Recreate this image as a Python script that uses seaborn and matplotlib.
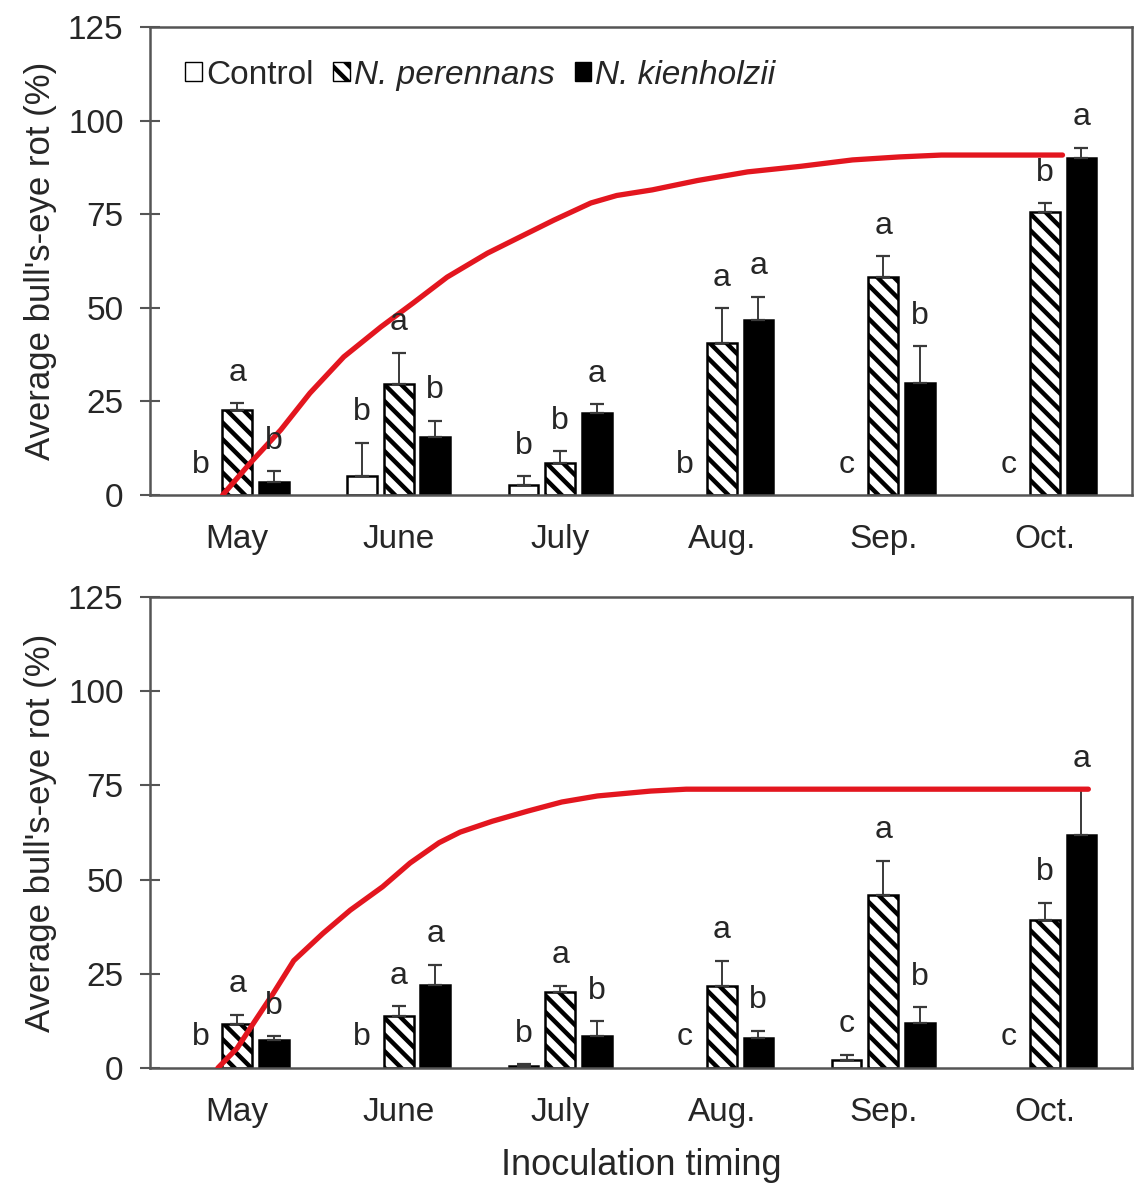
import numpy as np
import pandas as pd
import matplotlib
matplotlib.use("Agg")
import matplotlib.pyplot as plt
import seaborn as sns

# ---- data ----------------------------------------------------------------
months = ["May", "June", "July", "Aug.", "Sep.", "Oct."]
treatments = ["Control", "N. perennans", "N. kienholzii"]

# panel 1
top_control = [0.0, 5.1, 2.7, 0.0, 0.0, 0.0]
top_control_se = [0.0, 8.8, 2.3, 0.0, 0.0, 0.0]
top_perennans = [22.7, 29.6, 8.5, 40.6, 58.2, 75.6]
top_perennans_se = [1.8, 8.4, 3.2, 9.3, 5.6, 2.4]
top_kienholzii = [3.5, 15.5, 21.9, 46.7, 29.9, 90.0]
top_kienholzii_se = [2.9, 4.3, 2.4, 6.3, 9.9, 2.7]
top_control_letters = ["b", "b", "b", "b", "c", "c"]
top_perennans_letters = ["a", "a", "b", "a", "a", "b"]
top_kienholzii_letters = ["b", "b", "a", "a", "b", "a"]

# panel 2
bot_control = [0.0, 0.0, 0.5, 0.0, 2.2, 0.0]
bot_control_se = [0.0, 0.0, 0.5, 0.0, 1.3, 0.0]
bot_perennans = [11.8, 13.7, 20.2, 21.8, 46.0, 39.2]
bot_perennans_se = [2.4, 2.7, 1.6, 6.7, 9.0, 4.6]
bot_kienholzii = [7.5, 22.0, 8.6, 8.1, 12.0, 61.8]
bot_kienholzii_se = [0.9, 5.4, 3.8, 1.8, 4.1, 12.0]
bot_control_letters = ["b", "b", "b", "c", "c", "c"]
bot_perennans_letters = ["a", "a", "a", "a", "a", "b"]
bot_kienholzii_letters = ["b", "a", "b", "b", "b", "a"]

# cumulative curves (x in month-position units)
top_curve_x = [-0.09, 0.08, 0.27, 0.45, 0.66, 0.89, 1.09, 1.30, 1.55, 1.75,
               1.96, 2.19, 2.35, 2.57, 2.85, 3.16, 3.49, 3.81, 4.10, 4.36, 5.11]
top_curve_y = [0.0, 8.5, 17.4, 27.2, 36.9, 44.9, 51.3, 58.2, 64.6, 68.9,
               73.4, 78.0, 80.0, 81.5, 84.0, 86.3, 87.8, 89.5, 90.3, 90.8, 90.8]
bot_curve_x = [-0.12, 0.00, 0.11, 0.22, 0.35, 0.53, 0.70, 0.90, 1.07, 1.25,
               1.38, 1.58, 1.80, 2.01, 2.23, 2.56, 2.78, 3.14, 5.27]
bot_curve_y = [0.0, 5.3, 12.5, 19.6, 28.5, 35.7, 41.9, 48.1, 54.4, 59.8,
               62.6, 65.5, 68.2, 70.6, 72.2, 73.5, 74.0, 74.0, 74.0]

# ---- style ---------------------------------------------------------------
sns.set_theme(style="white")
plt.rcParams["font.family"] = ["Liberation Sans", "DejaVu Sans"]
plt.rcParams["hatch.linewidth"] = 3.2
plt.rcParams["hatch.color"] = "black"

TEXT = "#262626"
SPINE = "#555555"
RED = "#e3161f"

fig = plt.figure(figsize=(11.45, 11.85), dpi=100)
ax_top = fig.add_axes([0.131, 0.5823, 0.8576, 0.3949])
ax_bot = fig.add_axes([0.131, 0.0987, 0.8576, 0.3975])


def draw_panel(ax, ctrl, ctrl_se, per, per_se, kie, kie_se,
               letters, curve_x, curve_y):
    df = pd.DataFrame({
        "month": months * 3,
        "treatment": np.repeat(treatments, len(months)),
        "value": ctrl + per + kie,
    })
    sns.barplot(data=df, x="month", y="value", hue="treatment",
                order=months, hue_order=treatments,
                palette={"Control": "white", "N. perennans": "white",
                         "N. kienholzii": "black"},
                edgecolor="black", linewidth=1.8, width=0.68, gap=0.19,
                errorbar=None, legend=False, ax=ax, zorder=2)
    bar_conts = list(ax.containers[:3])
    for patch in bar_conts[1].patches:
        patch.set_hatch("\\\\")
    # bars of zero height leave no outline on the baseline
    for cont in bar_conts:
        for patch in cont.patches:
            if patch.get_height() == 0:
                patch.set_linewidth(0)

    ses = [ctrl_se, per_se, kie_se]
    for cont, se, labs in zip(bar_conts, ses, letters):
        xs = np.array([p.get_x() + p.get_width() / 2 for p in cont.patches])
        hs = np.array([p.get_height() for p in cont.patches])
        se = np.array(se)
        has = se > 0
        ax.errorbar(xs[has], hs[has], yerr=[np.zeros(has.sum()), se[has]],
                    fmt="none", ecolor="#3a3a3a", elinewidth=1.4,
                    capsize=5, capthick=1.6, zorder=3)
        for x, h, s, lab in zip(xs, hs, se, labs):
            ax.text(x, h + s + 6.0, lab, ha="center", va="baseline",
                    fontsize=23, color=TEXT, zorder=5)

    sns.lineplot(x=curve_x, y=curve_y, color=RED, linewidth=3.8,
                 ax=ax, zorder=4)
    for line in ax.lines[-1:]:
        line.set_solid_joinstyle("round")
        line.set_solid_capstyle("round")

    ax.set_xlim(-0.54, 5.54)
    ax.set_ylim(0, 125)
    ax.set_yticks([0, 25, 50, 75, 100, 125])
    ax.set_xlabel("")
    ax.set_ylabel("Average bull's-eye rot (%)", fontsize=25, color=TEXT,
                  labelpad=8)
    ax.tick_params(axis="y", direction="inout", length=14, width=1.5,
                   color=SPINE, labelsize=24, labelcolor=TEXT, pad=12,
                   left=True)
    ax.tick_params(axis="x", length=0, labelsize=24, labelcolor=TEXT, pad=21)
    for sp in ax.spines.values():
        sp.set_visible(True)
        sp.set_color(SPINE)
        sp.set_linewidth(1.8)
    return bar_conts


top_bars = draw_panel(ax_top, top_control, top_control_se, top_perennans,
                      top_perennans_se, top_kienholzii, top_kienholzii_se,
                      [top_control_letters, top_perennans_letters,
                       top_kienholzii_letters],
                      top_curve_x, top_curve_y)
draw_panel(ax_bot, bot_control, bot_control_se, bot_perennans,
           bot_perennans_se, bot_kienholzii, bot_kienholzii_se,
           [bot_control_letters, bot_perennans_letters, bot_kienholzii_letters],
           bot_curve_x, bot_curve_y)

ax_bot.set_xlabel("Inoculation timing", fontsize=26, color=TEXT, labelpad=14)

# legend built from the bar patches of the first panel
handles = [cont.patches[0] for cont in top_bars]
leg = ax_top.legend(handles, treatments, loc="upper left", ncol=3,
                    frameon=False, fontsize=24, handlelength=0.5,
                    handleheight=0.5, handletextpad=0.12, columnspacing=0.6,
                    borderaxespad=0.3, bbox_to_anchor=(0.012, 0.98))
for i, t in enumerate(leg.get_texts()):
    t.set_color(TEXT)
    if i > 0:
        t.set_style("italic")
for h in leg.legend_handles:
    h.set_linewidth(1.0)

fig.savefig("out.png", dpi=100)
